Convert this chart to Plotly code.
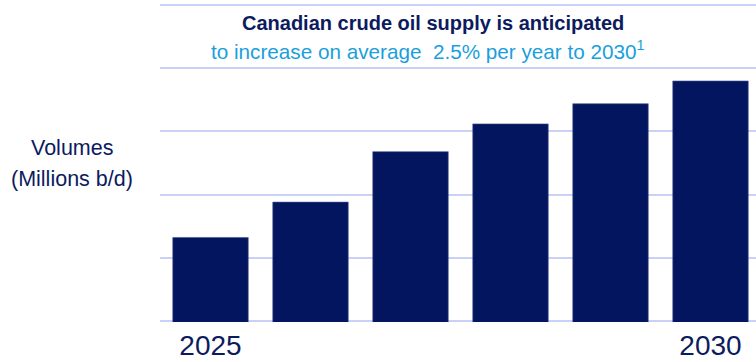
import plotly.graph_objects as go

# Canadian crude oil supply outlook, million barrels per day
years = [2025, 2026, 2027, 2028, 2029, 2030]
volumes = [4.83, 4.97, 5.17, 5.28, 5.36, 5.45]
tick_years = [2025, 2030]
tick_labels = ["2025", "2030"]

NAVY = "#04155f"
TEXT_NAVY = "#0c1b5e"
LIGHT_BLUE = "#1a9fdc"
GRID = "#c9d1f7"
FONT = "Liberation Sans, Arial, sans-serif"

W, H = 756, 362
M_L, M_R, M_T, M_B = 160, 0, 4, 40
PW, PH = W - M_L - M_R, H - M_T - M_B


def px_x(x):
    """Horizontal pixel position -> paper fraction."""
    return (x - M_L) / PW


def px_y(y):
    """Vertical pixel position (from top) -> paper fraction."""
    return (H - M_B - y) / PH


fig = go.Figure(
    go.Bar(
        x=years,
        y=volumes,
        marker=dict(color=NAVY, line=dict(color="#4a5894", width=0.6)),
        width=0.755,
        hoverinfo="skip",
    )
)

fig.update_layout(
    width=W,
    height=H,
    margin=dict(l=M_L, r=M_R, t=M_T, b=M_B),
    paper_bgcolor="white",
    plot_bgcolor="white",
    showlegend=False,
    font=dict(family=FONT, color=TEXT_NAVY),
    xaxis=dict(
        range=[2024.495, 2030.455],
        tickvals=tick_years,
        ticktext=tick_labels,
        showgrid=False,
        zeroline=False,
        showline=False,
        ticks="",
        ticklabelstandoff=4,
        tickfont=dict(size=28, color=TEXT_NAVY, family=FONT),
    ),
    yaxis=dict(
        range=[4.495, 5.755],
        dtick=0.25,
        tick0=4.5,
        showticklabels=False,
        showgrid=True,
        gridcolor=GRID,
        gridwidth=2,
        zeroline=False,
        showline=False,
        ticks="",
    ),
)

# Two-line headline
fig.add_annotation(
    text="<b>Canadian crude oil supply is anticipated</b>",
    xref="paper", yref="paper",
    x=px_x(433), y=px_y(23),
    xanchor="center", yanchor="middle",
    showarrow=False,
    font=dict(size=20, color=TEXT_NAVY, family=FONT),
)
fig.add_annotation(
    text="to increase on average  2.5% per year to 2030<sup>1</sup>",
    xref="paper", yref="paper",
    x=px_x(428), y=px_y(50),
    xanchor="center", yanchor="middle",
    showarrow=False,
    font=dict(size=20.7, color=LIGHT_BLUE, family=FONT),
)

# Axis caption on the left
fig.add_annotation(
    text="Volumes",
    xref="paper", yref="paper",
    x=px_x(71.5), y=px_y(147.5),
    xanchor="center", yanchor="middle",
    showarrow=False,
    font=dict(size=21.5, color=TEXT_NAVY, family=FONT),
)
fig.add_annotation(
    text="(Millions b/d)",
    xref="paper", yref="paper",
    x=px_x(71.5), y=px_y(178.5),
    xanchor="center", yanchor="middle",
    showarrow=False,
    font=dict(size=21.5, color=TEXT_NAVY, family=FONT),
)

fig.write_html("out.html")
